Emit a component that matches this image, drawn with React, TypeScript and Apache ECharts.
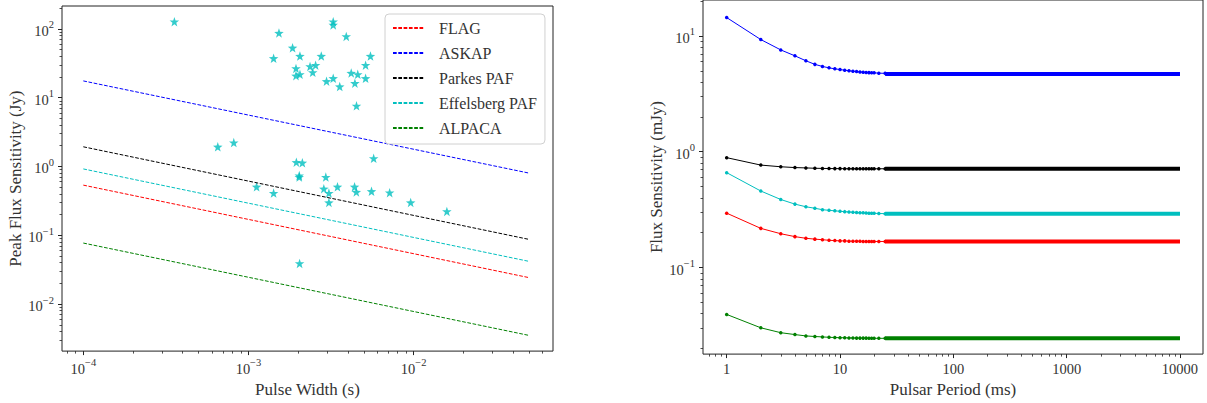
import React, { useEffect, useRef } from 'react';
import * as echarts from 'echarts';

// ---------- Left panel data ----------
const pulseWidthEnds = [1e-4, 5e-2];
const flagLimit = [0.535, 0.0242];
const askapLimit = [17.5, 0.8];
const parkesLimit = [1.93, 0.087];
const effelsbergLimit = [0.92, 0.0417];
const alpacaLimit = [0.077, 0.0035];

const burstWidth = [
  3.56e-4, 1.53e-3, 1.42e-3, 1.85e-3, 2.05e-3, 1.94e-3, 1.94e-3, 2.05e-3, 2.36e-3, 2.55e-3,
  2.45e-3, 2.76e-3, 3.26e-3, 3.26e-3, 3.91e-3, 2.97e-3, 3.26e-3, 3.57e-3, 4.19e-3, 4.59e-3,
  4.41e-3, 5.12e-3, 5.12e-3, 5.48e-3, 4.51e-3,
  6.52e-4, 8.15e-4, 1.12e-3, 1.42e-3, 1.95e-3, 2.12e-3, 2.03e-3, 2.03e-3, 5.73e-3, 2.94e-3,
  2.86e-3, 3.07e-3, 3.07e-3, 3.46e-3, 4.39e-3, 4.5e-3, 5.56e-3, 7.16e-3, 9.6e-3, 1.59e-2,
  2.04e-3,
];
const burstFlux = [
  127, 87, 37.3, 53, 40.2, 26.6, 20.8, 21.8, 28.4, 29.6,
  23.3, 40.2, 127, 114, 77.6, 17.3, 19.1, 14.5, 22.8, 21.8,
  16.2, 19.1, 29.6, 40.2, 7.6,
  1.93, 2.22, 0.506, 0.41, 1.15, 1.13, 0.736, 0.7, 1.31, 0.7,
  0.474, 0.41, 0.299, 0.506, 0.506, 0.425, 0.435, 0.415, 0.299, 0.222,
  0.039,
];

// ---------- Right panel data ----------
const periodMs = [1, 2, 3, 4, 5, 6, 7, 8, 9, 10, 11, 12, 13, 14, 15, 16, 17, 18, 19, 20, 22, 25];
const askapCurve = [14.4, 9.3, 7.57, 6.73, 6.1, 5.68, 5.45, 5.3, 5.2, 5.12, 5.06, 5.0, 4.96, 4.92, 4.89, 4.86, 4.84, 4.82, 4.81, 4.8, 4.77, 4.75];
const parkesCurve = [0.889, 0.767, 0.742, 0.73, 0.725, 0.72, 0.718, 0.716, 0.715, 0.715, 0.714, 0.714, 0.714, 0.714, 0.713, 0.713, 0.713, 0.713, 0.713, 0.713, 0.713, 0.713];
const effelsbergCurve = [0.66, 0.458, 0.387, 0.353, 0.335, 0.325, 0.316, 0.312, 0.309, 0.306, 0.304, 0.302, 0.3, 0.299, 0.298, 0.297, 0.296, 0.295, 0.295, 0.294, 0.293, 0.292];
const flagCurve = [0.295, 0.218, 0.196, 0.185, 0.179, 0.176, 0.174, 0.172, 0.171, 0.17, 0.17, 0.169, 0.169, 0.169, 0.169, 0.168, 0.168, 0.168, 0.168, 0.168, 0.168, 0.168];
const alpacaCurve = [0.0394, 0.0302, 0.0274, 0.0264, 0.0257, 0.0254, 0.0252, 0.025, 0.0249, 0.0248, 0.0248, 0.0247, 0.0247, 0.0246, 0.0246, 0.0246, 0.0246, 0.0245, 0.0245, 0.0245, 0.0245, 0.0245];
const plateauPeriods = [25, 10000];
const askapPlateau = 4.7;
const parkesPlateau = 0.713;
const effelsbergPlateau = 0.291;
const flagPlateau = 0.168;
const alpacaPlateau = 0.0245;

// ---------- Tick labels ----------
const leftXDecades = [-4, -3, -2];
const leftYDecades = [-2, -1, 0, 1, 2];
const rightXDecades = [0, 1, 2, 3, 4];
const rightXLabels = ['1', '10', '100', '1000', '10000'];
const rightYDecades = [-1, 0, 1];

const legendNames = ['FLAG', 'ASKAP', 'Parkes PAF', 'Effelsberg PAF', 'ALPACA'];

const FONT = "'Liberation Serif', 'DejaVu Serif', serif";
const TXT = '#333';
const AX = '#222';
const lg = Math.log10;

const RED = '#ff0000';
const BLUE = '#0000ff';
const BLACK = '#000000';
const CYAN = '#00bfbf';
const GREEN = '#008000';

const STAR =
  'path://M0,-10 L2.35,-3.24 L9.51,-3.09 L3.8,1.24 L5.88,8.09 L0,4 L-5.88,8.09 L-3.8,1.24 L-9.51,-3.09 L-2.35,-3.24 Z';

function minorTicks(lo: number, hi: number) {
  const out: number[] = [];
  for (let d = Math.floor(lo) - 1; d <= Math.ceil(hi); d++) {
    for (let k = 2; k <= 9; k++) {
      const v = d + lg(k);
      if (v >= lo && v <= hi) out.push(v);
    }
  }
  return out;
}

const powLabel = (v: number) => {
  const e = Math.round(v);
  return `{b|10}{s|${e < 0 ? '\u2212' + -e : e}}`;
};

const rich = {
  b: { fontSize: 14.5, fontFamily: FONT, color: TXT, lineHeight: 19, verticalAlign: 'bottom' },
  s: { fontSize: 10.5, fontFamily: FONT, color: TXT, lineHeight: 12, verticalAlign: 'top' },
};

const nameStyle = { fontSize: 17, fontFamily: FONT, color: TXT };

function majorAxis(opts: any) {
  return {
    type: 'value',
    gridIndex: opts.grid,
    position: opts.position,
    min: opts.min,
    max: opts.max,
    name: opts.name,
    nameLocation: 'middle',
    nameGap: opts.nameGap,
    nameTextStyle: nameStyle,
    axisLine: { show: false, onZero: false },
    splitLine: { show: false },
    axisTick: { show: true, length: 4, customValues: opts.values, lineStyle: { color: AX, width: 1 } },
    axisLabel: {
      show: true,
      customValues: opts.values,
      formatter: opts.formatter,
      margin: opts.margin,
      rich,
      fontSize: 14.5,
      fontFamily: FONT,
      color: TXT,
    },
  };
}

function minorAxis(opts: any) {
  return {
    type: 'value',
    gridIndex: opts.grid,
    position: opts.position,
    min: opts.min,
    max: opts.max,
    axisLine: { show: false, onZero: false },
    splitLine: { show: false },
    axisLabel: { show: false },
    axisTick: { show: true, length: 2.5, customValues: minorTicks(opts.min, opts.max), lineStyle: { color: AX, width: 0.8 } },
  };
}

const LX = [-4.129, -1.156];
const LY = [-2.684, 2.332];
const RX = [-0.209, 4.203];
const RY = [-1.747, 1.31];

function limitSeries(name: string, color: string, vals: number[]) {
  return {
    type: 'line',
    name,
    xAxisIndex: 0,
    yAxisIndex: 0,
    data: pulseWidthEnds.map((w, i) => [lg(w), lg(vals[i])]),
    symbol: 'none',
    lineStyle: { color, width: 1, type: [3.7, 1.6] },
    itemStyle: { color },
    z: 3,
  };
}

function curveSeries(name: string, color: string, vals: number[], plateau: number) {
  return [
    {
      type: 'line',
      name: name + ' (period)',
      xAxisIndex: 2,
      yAxisIndex: 2,
      data: periodMs.map((p, i) => [lg(p), lg(vals[i])]),
      symbol: 'circle',
      symbolSize: 3.5,
      showSymbol: true,
      showAllSymbol: true,
      lineStyle: { color, width: 1 },
      itemStyle: { color },
    },
    {
      type: 'line',
      name: name + ' (plateau)',
      xAxisIndex: 2,
      yAxisIndex: 2,
      data: plateauPeriods.map((p) => [lg(p), lg(plateau)]),
      symbol: 'none',
      lineStyle: { color, width: 4 },
      itemStyle: { color },
    },
  ];
}

export default function App() {
  const ref = useRef<HTMLDivElement>(null);
  useEffect(() => {
    if (!ref.current) return;
    const chart = echarts.init(ref.current, undefined, { renderer: 'svg' });
    const option: any = {
      animation: false,
      backgroundColor: '#ffffff',
      grid: [
        { left: 62, right: 654, top: 6, bottom: 45, show: true, borderColor: AX, borderWidth: 1, backgroundColor: 'transparent' },
        { left: 703, right: 4, top: -4, bottom: 46, show: true, borderColor: AX, borderWidth: 1, backgroundColor: 'transparent' },
      ],
      legend: {
        data: legendNames,
        orient: 'vertical',
        left: 385,
        top: 14,
        itemWidth: 31,
        itemHeight: 14,
        itemGap: 9,
        padding: [6, 8, 8, 7],
        borderColor: '#d0d0d0',
        borderWidth: 1,
        borderRadius: 4,
        backgroundColor: 'rgba(255,255,255,0.8)',
        itemStyle: { color: 'transparent', borderColor: 'transparent', borderWidth: 0, opacity: 0 },
        textStyle: { fontSize: 16, fontFamily: FONT, color: TXT, padding: [0, 0, 0, 10] },
      },
      xAxis: [
        majorAxis({ grid: 0, position: 'bottom', min: LX[0], max: LX[1], values: leftXDecades, formatter: powLabel, margin: 6, name: 'Pulse Width (s)', nameGap: 24 }),
        minorAxis({ grid: 0, position: 'bottom', min: LX[0], max: LX[1] }),
        majorAxis({
          grid: 1, position: 'bottom', min: RX[0], max: RX[1], values: rightXDecades,
          formatter: (v: number) => rightXLabels[rightXDecades.indexOf(Math.round(v))] ?? '',
          margin: 7, name: 'Pulsar Period (ms)', nameGap: 20,
        }),
        minorAxis({ grid: 1, position: 'bottom', min: RX[0], max: RX[1] }),
      ],
      yAxis: [
        majorAxis({ grid: 0, position: 'left', min: LY[0], max: LY[1], values: leftYDecades, formatter: powLabel, margin: 8, name: 'Peak Flux Sensitivity (Jy)', nameGap: 38 }),
        minorAxis({ grid: 0, position: 'left', min: LY[0], max: LY[1] }),
        majorAxis({ grid: 1, position: 'left', min: RY[0], max: RY[1], values: rightYDecades, formatter: powLabel, margin: 8, name: 'Flux Sensitivity (mJy)', nameGap: 38 }),
        minorAxis({ grid: 1, position: 'left', min: RY[0], max: RY[1] }),
      ],
      series: [
        {
          type: 'scatter',
          name: 'bursts',
          xAxisIndex: 0,
          yAxisIndex: 0,
          data: burstWidth.map((w, i) => [lg(w), lg(burstFlux[i])]),
          symbol: STAR,
          symbolSize: 9.5,
          itemStyle: { color: CYAN },
          z: 2,
        },
        limitSeries('FLAG', RED, flagLimit),
        limitSeries('ASKAP', BLUE, askapLimit),
        limitSeries('Parkes PAF', BLACK, parkesLimit),
        limitSeries('Effelsberg PAF', CYAN, effelsbergLimit),
        limitSeries('ALPACA', GREEN, alpacaLimit),
        ...curveSeries('ASKAP', BLUE, askapCurve, askapPlateau),
        ...curveSeries('Parkes PAF', BLACK, parkesCurve, parkesPlateau),
        ...curveSeries('Effelsberg PAF', CYAN, effelsbergCurve, effelsbergPlateau),
        ...curveSeries('FLAG', RED, flagCurve, flagPlateau),
        ...curveSeries('ALPACA', GREEN, alpacaCurve, alpacaPlateau),
      ],
    };
    chart.setOption(option);
    return () => chart.dispose();
  }, []);
  return (
    <div
      ref={ref}
      style={{ position: 'fixed', left: 0, top: 0, width: 1207, height: 403, background: '#fff' }}
    />
  );
}
